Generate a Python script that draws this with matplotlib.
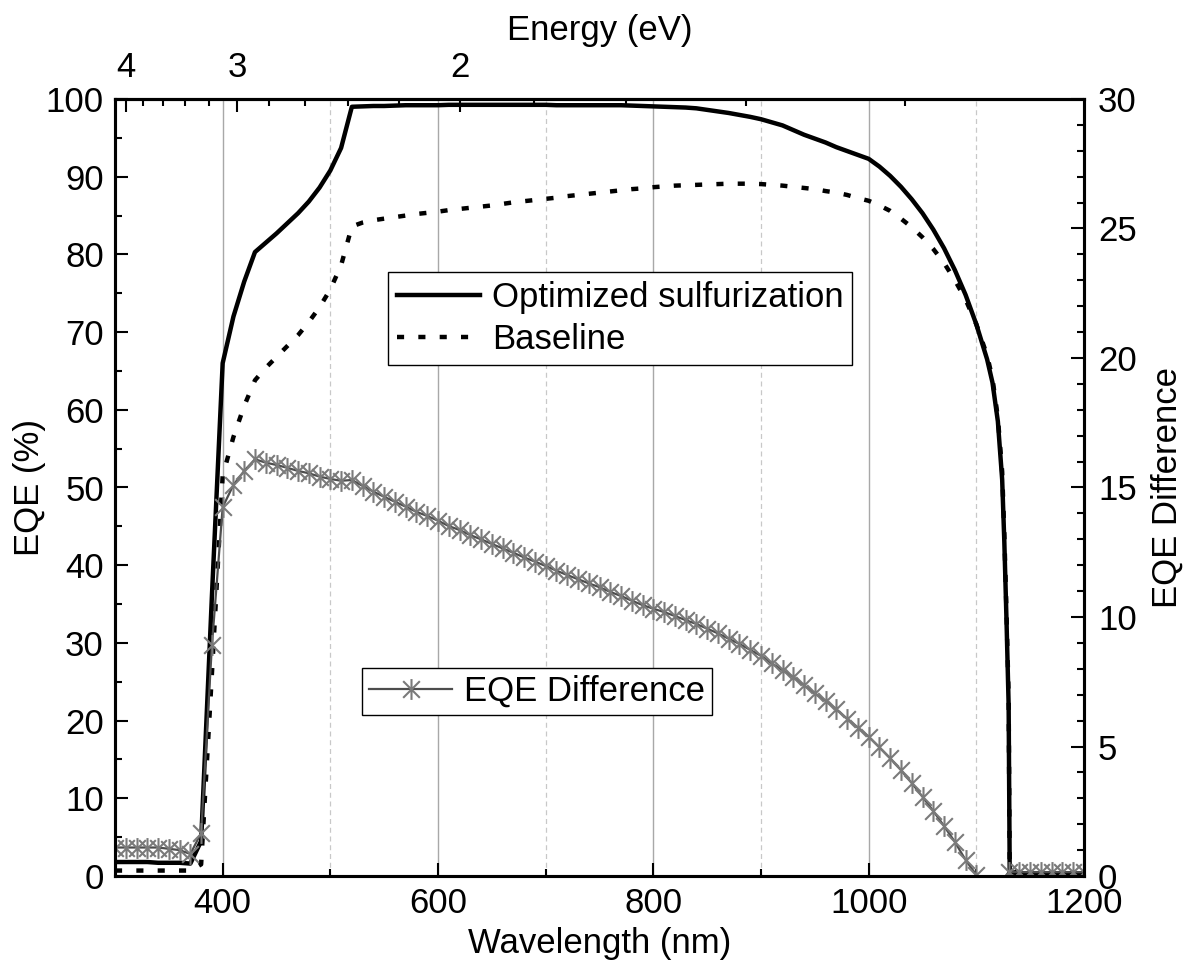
import numpy as np
import matplotlib
matplotlib.use("Agg")
import matplotlib.pyplot as plt
from matplotlib.path import Path
from matplotlib.ticker import MultipleLocator, FixedLocator

plt.rcParams['font.family'] = ['Liberation Sans', 'DejaVu Sans']
plt.rcParams['font.size'] = 25

# wavelength grid for the two EQE curves (nm)
wl = [300, 310, 320, 330, 340, 350, 360, 370, 380, 390, 400, 410, 420, 430,
      440, 450, 460, 470, 480, 490, 500, 510, 520, 530, 540, 550, 560, 570,
      580, 590, 600, 610, 620, 630, 640, 650, 660, 670, 680, 690, 700, 710,
      720, 730, 740, 750, 760, 770, 780, 790, 800, 810, 820, 830, 840, 850,
      860, 870, 880, 890, 900, 910, 920, 930, 940, 950, 960, 970, 980, 990,
      1000, 1010, 1020, 1030, 1040, 1050, 1060, 1070, 1080, 1090, 1100, 1110,
      1115, 1120, 1124, 1126, 1128, 1130, 1131, 1140, 1150, 1160, 1170, 1180,
      1190, 1200]

eqe_opt = [1.8, 1.8, 1.8, 1.8, 1.7, 1.7, 1.7, 1.6, 4.5, 36, 66, 72, 76.5, 80.3,
           81.5, 82.7, 84.0, 85.3, 86.8, 88.6, 90.8, 93.7, 99.0, 99.05, 99.1, 99.1, 99.15, 99.2,
           99.2, 99.2, 99.2, 99.25, 99.25, 99.25, 99.25, 99.25, 99.25, 99.25, 99.25, 99.25, 99.25, 99.2,
           99.2, 99.2, 99.2, 99.2, 99.2, 99.2, 99.15, 99.1, 99.05, 99.0, 98.95, 98.9, 98.8, 98.6,
           98.4, 98.2, 97.95, 97.7, 97.4, 97.0, 96.6, 96.0, 95.4, 94.9, 94.4, 93.8, 93.3, 92.8,
           92.3, 91.3, 90.1, 88.7, 87.1, 85.3, 83.2, 80.8, 78.0, 74.8, 71.0, 66.5,
           63.5, 58.5, 51, 43, 33, 22, 0.5, 0.35, 0.3, 0.3, 0.3, 0.3,
           0.3, 0.3]

eqe_base = [0.7, 0.7, 0.7, 0.7, 0.7, 0.7, 0.7, 0.7, 1.5, 26, 51.5, 56.5, 60.5, 63.8,
            65.4, 66.8, 68.2, 69.6, 71.3, 73.2, 75.5, 78.6, 83.6, 84.1, 84.4, 84.6, 84.8, 85.0,
            85.2, 85.35, 85.5, 85.7, 85.85, 86.0, 86.15, 86.3, 86.5, 86.7, 86.85, 87.0, 87.15, 87.3,
            87.5, 87.65, 87.8, 87.95, 88.1, 88.25, 88.4, 88.5, 88.65, 88.75, 88.85, 88.9, 88.95, 89.0,
            89.05, 89.1, 89.1, 89.1, 89.05, 88.95, 88.85, 88.7, 88.55, 88.4, 88.15, 87.95, 87.65, 87.25,
            86.9, 86.3, 85.6, 84.6, 83.5, 82.2, 80.7, 78.9, 76.7, 74.2, 71.0, 67.0,
            64.0, 59.0, 52, 44, 34, 23, 1.0, 0.4, 0.35, 0.35, 0.35, 0.35,
            0.35, 0.35]

# EQE difference, 10 nm step from 300 to 1200 nm
wl_diff = list(range(300, 1201, 10))
eqe_diff = [1.1, 1.1, 1.1, 1.1, 1.1, 1.05, 1.0, 0.85,
            1.66, 8.9, 14.24, 15.1, 15.64, 16.09, 15.96, 15.87, 15.76, 15.64, 15.55, 15.42,
            15.33, 15.26, 15.29, 15.06, 14.84, 14.64, 14.45, 14.26, 14.06, 13.9,
            13.72, 13.51, 13.36, 13.16, 13.0, 12.82, 12.65, 12.48, 12.3, 12.14,
            11.97, 11.79, 11.62, 11.46, 11.3, 11.15, 10.97, 10.81, 10.63, 10.46,
            10.32, 10.19, 10.04, 9.88, 9.73, 9.55, 9.37, 9.16, 8.96, 8.73,
            8.5, 8.21, 7.95, 7.68, 7.36, 7.05, 6.76, 6.44, 6.07, 5.73,
            5.38, 4.97, 4.54, 4.09, 3.59, 3.06, 2.51, 1.93, 1.32, 0.62,
            0.04, -0.5, -0.4,
            0.15, 0.15, 0.15, 0.15, 0.15, 0.15, 0.15, 0.15]

energy_major = [4, 3, 2]
energy_minor = [3.8, 3.6, 3.4, 3.2, 2.8, 2.6, 2.4, 2.2, 1.8, 1.6, 1.4, 1.2]

# asterisk marker: vertical bar plus an X
star = Path([(0, -1), (0, 1), (-0.8, -0.8), (0.8, 0.8), (-0.8, 0.8), (0.8, -0.8)],
            [Path.MOVETO, Path.LINETO, Path.MOVETO, Path.LINETO, Path.MOVETO, Path.LINETO])

fig = plt.figure(figsize=(11.89, 9.71), dpi=100)
ax = fig.add_axes([115/1189, 1 - 876/971, 969/1189, 777/971])

ax.grid(True, which='major', axis='x', color='#a8a8a8', lw=1.0, ls='-')
ax.grid(True, which='minor', axis='x', color='#c8c8c8', lw=0.9, ls=(0, (4, 3)))
ax.set_axisbelow(True)

l1, = ax.plot(wl, eqe_opt, color='black', lw=3.2, label='Optimized sulfurization')
l2, = ax.plot(wl, eqe_base, color='black', lw=3.2, ls=(0, (1.6, 3.2)), label='Baseline')

ax.set_xlim(300, 1200)
ax.set_ylim(0, 100)
ax.xaxis.set_major_locator(FixedLocator([400, 600, 800, 1000, 1200]))
ax.xaxis.set_minor_locator(FixedLocator([500, 700, 900, 1100]))
ax.yaxis.set_major_locator(MultipleLocator(10))
ax.yaxis.set_minor_locator(MultipleLocator(5))
ax.tick_params(which='both', direction='in', width=1.5, top=False, right=False)
ax.tick_params(which='major', length=9.5)
ax.tick_params(which='minor', length=5)
ax.tick_params(axis='x', pad=8)
ax.tick_params(axis='y', pad=8)
ax.set_xlabel('Wavelength (nm)', labelpad=5)
ax.set_ylabel('EQE (%)', labelpad=0)
for s in ax.spines.values():
    s.set_linewidth(2.2)

ax2 = ax.twinx()
l3, = ax2.plot(wl_diff, eqe_diff, color='#4d4d4d', lw=1.6, marker=star, ms=15,
               mec='#7a7a7a', mew=1.5, label='EQE Difference')
ax2.set_ylim(0, 30)
ax2.yaxis.set_major_locator(MultipleLocator(5))
ax2.yaxis.set_minor_locator(MultipleLocator(1))
ax2.tick_params(which='both', direction='in', width=1.5, pad=10)
ax2.tick_params(which='major', length=9.5)
ax2.tick_params(which='minor', length=5)
ax2.set_ylabel('EQE Difference', labelpad=10)
for s in ax2.spines.values():
    s.set_linewidth(2.2)


def wl_to_ev(x):
    with np.errstate(divide='ignore'):
        return 1240.0 / np.asarray(x, dtype=float)


top = ax.secondary_xaxis('top', functions=(wl_to_ev, wl_to_ev))
top.xaxis.set_major_locator(FixedLocator(energy_major))
top.xaxis.set_minor_locator(FixedLocator(energy_minor))
top.tick_params(which='both', direction='in', width=1.5, pad=11)
top.tick_params(which='major', length=9.5)
top.tick_params(which='minor', length=5)
top.set_xlabel('Energy (eV)', labelpad=8)
top.spines['top'].set_linewidth(2.2)

leg1 = ax.legend(handles=[l1, l2], loc='upper left', bbox_to_anchor=(0.2817, 0.7773),
                 borderaxespad=0, frameon=True, fancybox=False, edgecolor='black',
                 framealpha=1, handlelength=2.4, handletextpad=0.35, borderpad=0.25,
                 labelspacing=0.28, fontsize=25)
leg1.get_frame().set_linewidth(1.0)

leg2 = ax2.legend(handles=[l3], loc='upper left', bbox_to_anchor=(0.2549, 0.2677),
                  borderaxespad=0, frameon=True, fancybox=False, edgecolor='black',
                  framealpha=1, handlelength=2.4, handletextpad=0.35, borderpad=0.2,
                  fontsize=25)
leg2.get_frame().set_linewidth(1.0)

fig.savefig('out.png', dpi=100)
